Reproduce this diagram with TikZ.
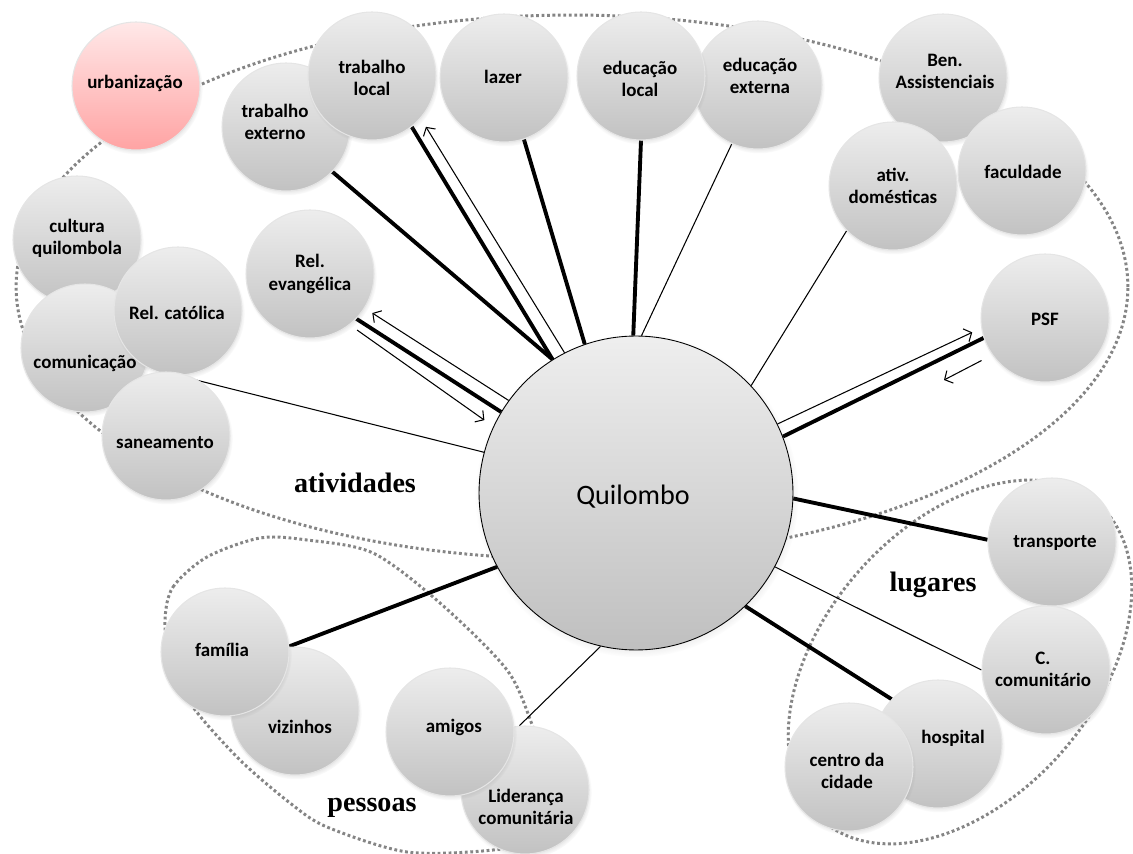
\documentclass[tikz,border=0pt]{standalone}
\usepackage{fontspec}
\newfontfamily\lblfont{Carlito}
\newfontfamily\grpfont{Liberation Serif}
\usetikzlibrary{arrows.meta,shadows}
\pgfdeclarelayer{bg}
\pgfdeclarelayer{fg}
\pgfsetlayers{bg,main,fg}

\begin{document}
\begin{tikzpicture}[
x=0.02cm, y=-0.02cm,
bub/.style={circle, minimum size=2.56cm, inner sep=0pt, draw=white!80!gray, line width=.6pt,
	top color=gray!14, bottom color=gray!48,
	circular drop shadow={shadow scale=1.03, shadow xshift=.5pt, shadow yshift=-1.4pt, opacity=.35}},
urb/.style={bub, top color=red!9, bottom color=red!36},
hub/.style={bub, minimum size=6.28cm, draw=black, line width=.5pt, top color=gray!13, bottom color=gray!50},
txt/.style={align=center, inner sep=0pt, font=\lblfont\bfseries\fontsize{10.8}{12.6}\selectfont},
grp/.style={draw=black!48, line width=1.7pt, dash pattern=on 1.6pt off 1.5pt},
grplbl/.style={font=\grpfont\bfseries\fontsize{16}{18}\selectfont},
fort/.style={line width=2.2pt},
fraco/.style={line width=.6pt},
seta/.style={fraco, -{Straight Barb[length=3.5pt,width=8pt]}}
]
\useasboundingbox (0,0) rectangle (1133,854);

%%% centro
\node[hub] (q) at (636,493) {};
\node[font=\lblfont\fontsize{16}{18}\selectfont] (q-t) at (633,497) {Quilombo};

%%% bolhas
\node[urb] (urb) at (136,86) {};
\node[txt] (urb-t) at (135,83) {urbanização};
\foreach \nm/\x/\y/\tx/\ty/\lbl in {
	cq/77/240/77/238/{cultura\\quilombola},
	com/85/348/85/363/comunicação,
	rc/178/311/177/313/{Rel. católica},
	san/166/436/165/443/saneamento,
	re/310/274/310/274/{Rel.\\evangélica},
	te/286/127/275/122/{trabalho\\externo},
	tl/372/76/372/78/{trabalho\\local},
	lazer/504/78/503/77/lazer,
	ee/758/85/760/76/{educação\\externa},
	el/641/76/640/79/{educação\\local},
	ben/943/78/945/71/{Ben.\\Assistenciais},
	fac/1022/171/1023/172/faculdade,
	ad/893/186/893/186/{ativ.\\domésticas},
	psf/1045/318/1045/319/PSF,
	transp/1052/542/1055/543/transporte,
	cc/1046/670/1043/669/{C.\\comunitário},
	hosp/938/744/953/738/hospital,
	centro/849/767/847/771/{centro da\\cidade},
	viz/295/711/300/727/vizinhos,
	fam/225/652/222/650/família,
	lid/525/790/526/807/{Liderança\\comunitária},
	amigos/450/732/456/727/amigos
	}{
	\node[bub] (\nm) at (\x,\y) {};
	\begin{pgfonlayer}{fg}
		\node[txt] (\nm-t) at (\tx,\ty) {\lbl};
	\end{pgfonlayer}
}

%%% grupos
\node[grplbl] (ativ) at (355,483) {atividades};
\node[grplbl] (pess) at (372,808) {pessoas};
\node[grplbl] (lug) at (933,585) {lugares};

\coordinate (psfret) at (944,380);

\begin{pgfonlayer}{bg}
\draw[grp] (572,287) ellipse [x radius=11.12cm, y radius=5.44cm];
\draw[grp, rotate around={49:(960,662)}] (960,662) ellipse [x radius=4.2cm, y radius=2.72cm];
\draw[grp] plot[smooth cycle] coordinates {(165,620) (173,587) (207,557) (260,538) (307,540)
	(373,553) (440,603) (507,670) (533,727) (555,790) (535,838) (493,850) (407,852)
	(327,827) (290,803) (240,760) (193,707) (170,660)};

%%% ligacoes
\foreach \a/\b/\c/\s in {122/te/316/fort, 122/tl/308/fort, 109/lazer/288/fort, 91/el/270/fort,
	88/ee/246/fraco, 43/ad/224/fraco, 21/psf/198/fort, 149/re/316/fort, 165/rc/270/fraco,
	208/fam/5/fort, 257/lid/95/fraco, 358/transp/178/fort, 332/cc/180/fraco, 314/hosp/136/fort}
	\draw[\s] (q.\a) -- (\b.\c);

%%% setas
\draw[seta, shorten >=.2cm] (q.117) -- (tl.319);
\draw[seta, shorten >=.2cm] (q.26) -- (psf.189);
\draw[seta, shorten <=.24cm] (psf.215) -- (psfret);
\draw[seta, shorten >=.18cm] (q.144) -- (re.328);
\draw[seta, shorten <=.18cm, shorten >=.22cm] (re.308) -- (q.155);
\end{pgfonlayer}

\end{tikzpicture}
\end{document}
